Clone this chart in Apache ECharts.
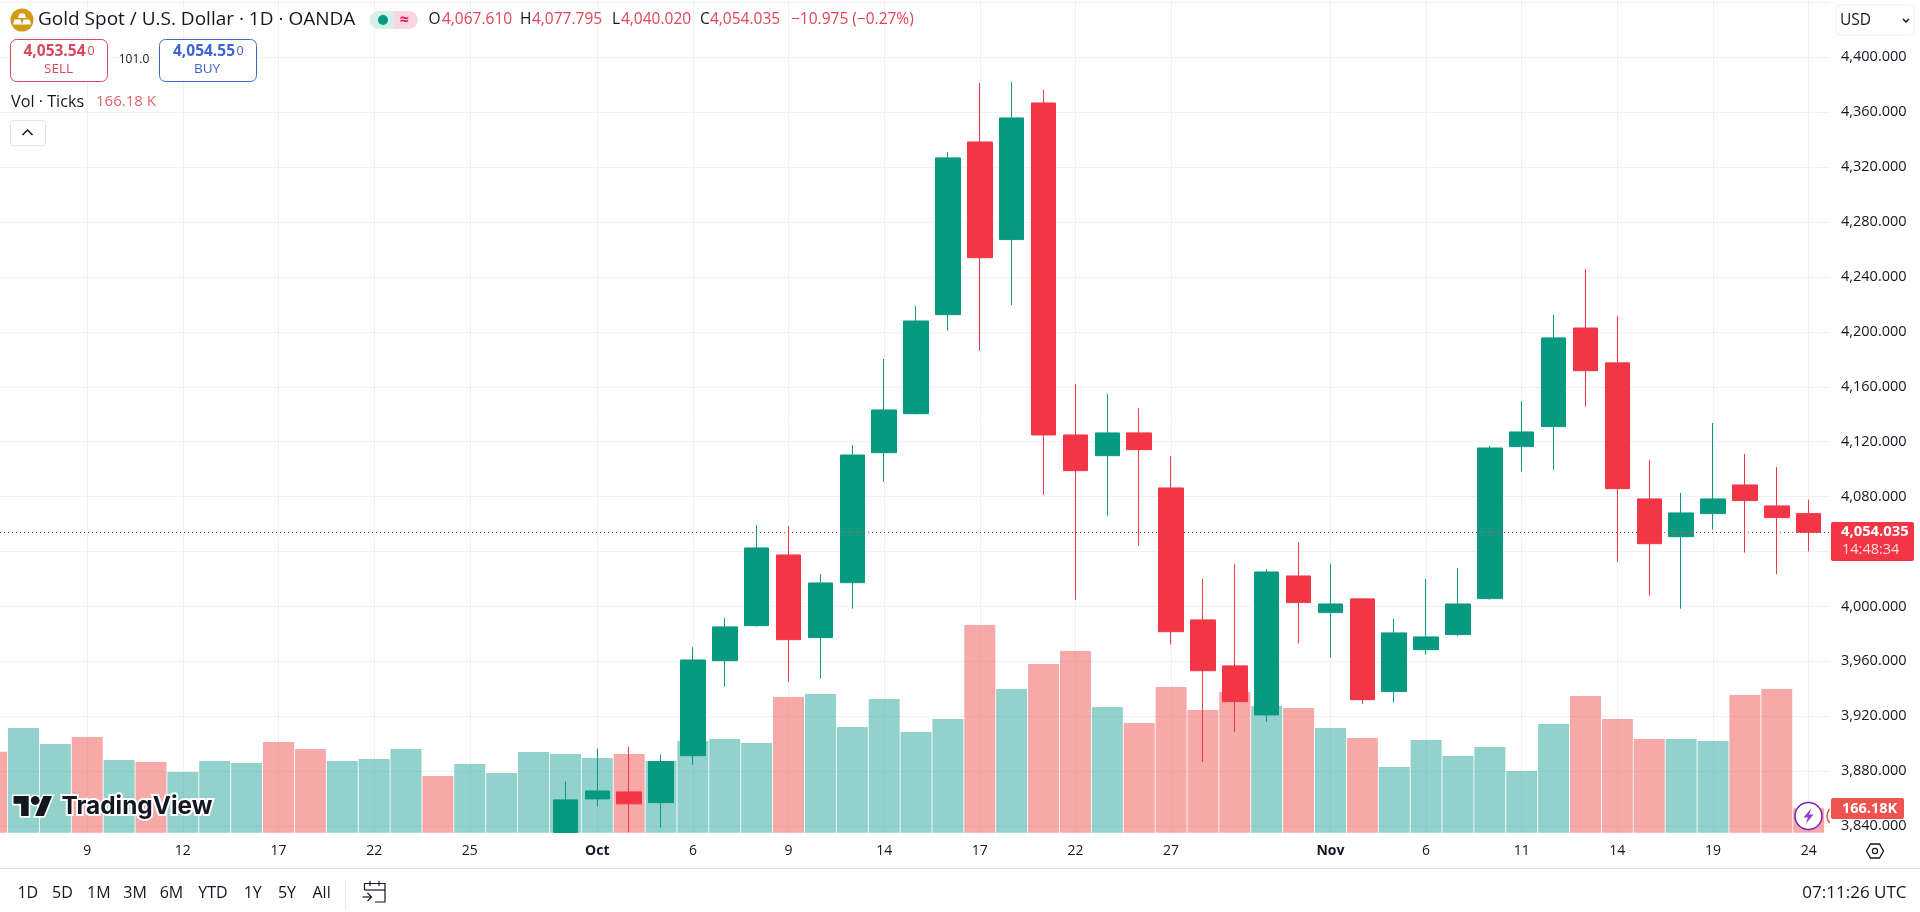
<!DOCTYPE html>
<html>
<head>
<meta charset="utf-8">
<title>Gold Spot / U.S. Dollar</title>
<script src="https://cdn.jsdelivr.net/npm/echarts@6/dist/echarts.min.js"></script>
<style>html,body{margin:0;padding:0;background:#fff}#c{width:1920px;height:912px}</style>
</head>
<body>
<div id="c"></div>
<script>
// ---- data ----
const dates = ['Sep 4','Sep 5','Sep 8','9','Sep 10','Sep 11','12','Sep 15','Sep 16','17','Sep 18','Sep 19','22','Sep 23','Sep 24','25','Sep 26','Sep 29','Sep 30','Oct','Oct 2','Oct 3','6','Oct 7','Oct 8','9','Oct 10','Oct 13','14','Oct 15','Oct 16','17','Oct 20','Oct 21','22','Oct 23','Oct 24','27','Oct 28','Oct 29','Oct 30','Oct 31','Nov','Nov 4','Nov 5','6','Nov 7','Nov 10','11','Nov 12','Nov 13','14','Nov 17','Nov 18','19','Nov 20','Nov 21','24'];
const boldLabels = ['Oct','Nov'];
const volumeK = [552,713,604,652,495,481,413,488,475,618,570,488,502,570,386,468,407,550,536,509,536,488,624,638,611,924,945,720,911,686,774,1414,979,1149,1237,856,747,992,836,958,863,849,713,645,447,631,522,584,420,740,931,774,638,638,624,938,979,166.18];
const volumeDir = ['d','u','u','d','u','d','u','u','u','d','d','u','u','u','d','u','u','u','u','u','d','u','u','u','u','d','u','u','u','u','u','d','u','d','d','u','d','d','d','d','u','d','u','d','u','u','u','u','u','u','d','d','d','u','u','d','d','d'];
const firstCandleIndex = 18;
const opens  = [3835.4,3859.8,3864.9,3857.1,3891.3,3960.5,3986,4037.5,3977.3,4017.3,4112,4140.4,4212.5,4338.3,4267.2,4366.7,4124.9,4109.8,4126.4,4086.3,3990.2,3956.7,3921,4022.2,3995.5,4005.5,3938,3968.5,3979.5,4005.7,4116.4,4131,4202.8,4177.4,4078.3,4050.8,4067.6,4088.5,4073.2,4067.61];
const closes = [3859.1,3865.6,3856.2,3887,3961,3985.1,4042.6,3975.8,4017.1,4110.3,4143.1,4207.9,4326.7,4254,4355.8,4124.9,4098.9,4126.4,4114.2,3981.6,3953.2,3930.7,4025.1,4002.8,4001.8,3932.1,3980.7,3977.8,4001.8,4115.4,4127.1,4195.6,4171.7,4085.8,4045.7,4068.1,4078.3,4077.1,4064.7,4054.035];
const lows   = [3835.4,3854.2,3835.4,3838.9,3884.6,3941.6,3985.3,3945.2,3947.4,3998.4,4090.9,4140,4200.9,4186.3,4219.6,4081.2,4005,4066.1,4044.3,3972.2,3886.7,3908.8,3916.1,3973.2,3962.7,3929.2,3929.9,3964.9,3978.5,4005,4098.2,4099.4,4145.5,4032.6,4007.9,3998.4,4055.9,4039.2,4023.5,4040.02];
const highs  = [3872.4,3896.4,3897.9,3891.9,3970.3,3991.6,4059.4,4058.4,4023.5,4117.6,4180.3,4218.9,4330.8,4381.3,4382,4376.2,4162.1,4154.8,4144.6,4109.6,4020,4030.7,4027.1,4046.8,4031,4005.5,3990.9,4020,4028,4116.9,4149.5,4212.3,4245.8,4211.6,4106.7,4082.7,4133.7,4111.1,4101.6,4077.795];
const priceTicks = [3840,3880,3920,3960,4000,4040,4080,4120,4160,4200,4240,4280,4320,4360,4400];
const priceGrid = priceTicks.concat([4440]);
const dateTickIndex = [3,6,9,12,15,19,22,25,28,31,34,37,42,45,48,51,54,57];
const lastPrice = 4054.035;
const rangeButtons = ['1D','5D','1M','3M','6M','YTD','1Y','5Y','All'];

// ---- styling ----
const UP='#089981', DOWN='#F23645', INK='#131722', GRID='#f0f1f4';
const FONT='"Open Sans", "Noto Sans", sans-serif';
const candleRows = opens.map((o,k)=>[k+firstCandleIndex,o,closes[k],lows[k],highs[k]]);
const volumeRows = volumeK.map((v,i)=>[i,v]);
const fmt = v => v.toFixed(3).replace(/\B(?=(\d{3})(?!\d))/, ',');

function txt(x,y,s,o){o=o||{};return {type:'text',x:x,y:y,z:50,silent:true,style:{text:s,fontFamily:o.font||FONT,fontSize:o.size||14,fontWeight:o.weight||'normal',fill:o.color||INK,align:o.align||'left',verticalAlign:'middle',stroke:o.stroke,lineWidth:o.lw}};}
function box(x,y,w,h,o){return {type:'rect',z:o.z||40,silent:true,shape:{x:x,y:y,width:w,height:h,r:o.r||0},style:{fill:o.fill||'#fff',stroke:o.stroke,lineWidth:o.lw||1}};}
function pline(pts,o){o=o||{};return {type:'polyline',z:50,silent:true,shape:{points:pts},style:{fill:'none',stroke:o.color||INK,lineWidth:o.lw||1.2}};}

const header = [
  {type:'circle',z:50,silent:true,shape:{cx:22,cy:20,r:11.5},style:{fill:'#cf9a14'}},
  {type:'polygon',z:51,silent:true,shape:{points:[[19.5,13.5],[24.5,13.5],[26,18],[18,18]]},style:{fill:'#fff'}},
  {type:'polygon',z:51,silent:true,shape:{points:[[14.5,19.5],[20.5,19.5],[22,24.5],[13,24.5]]},style:{fill:'#fff'}},
  {type:'polygon',z:51,silent:true,shape:{points:[[23.5,19.5],[29.5,19.5],[31,24.5],[22,24.5]]},style:{fill:'#fff'}},
  txt(38,20,'Gold Spot / U.S. Dollar · 1D · OANDA',{size:19}),
  box(370,11,48,18,{fill:'#fad6e2',r:9}),
  box(370,11,24,18,{fill:'#d5f0ec',r:[9,0,0,9],z:41}),
  {type:'circle',z:50,silent:true,shape:{cx:383,cy:20,r:5},style:{fill:UP}},
  txt(404,20,'≈',{size:16,color:'#d81b60',align:'center',weight:'bold'}),
  txt(428.5,20,'O',{size:15.5}),txt(442,20,'4,067.610',{size:15.5,color:'#e04458'}),
  txt(520,20,'H',{size:15.5}),txt(532,20,'4,077.795',{size:15.5,color:'#e04458'}),
  txt(612,20,'L',{size:15.5}),txt(621,20,'4,040.020',{size:15.5,color:'#e04458'}),
  txt(700,20,'C',{size:15.5}),txt(710,20,'4,054.035',{size:15.5,color:'#e04458'}),
  txt(791,20,'−10.975 (−0.27%)',{size:15.5,color:'#e04458'}),
  box(10.5,39.5,97,42,{fill:'#fff',stroke:'#d8475c',r:6}),
  txt(23.5,52,'4,053.54',{size:15.5,weight:'bold',color:'#d8475c'}),
  txt(87.5,51,'0',{size:12.5,color:'#d8475c'}),
  txt(58.5,69.5,'SELL',{size:13.5,color:'#d8475c',align:'center'}),
  txt(134,60,'101.0',{size:12,align:'center'}),
  box(159.5,39.5,97,42,{fill:'#fff',stroke:'#3d68bf',r:6}),
  txt(173,52,'4,054.55',{size:15.5,weight:'bold',color:'#3f62d8'}),
  txt(236.5,51,'0',{size:12.5,color:'#3f62d8'}),
  txt(207,69.5,'BUY',{size:13.5,color:'#3f62d8',align:'center'}),
  txt(11,102,'Vol · Ticks',{size:16.2}),
  txt(96,102,'166.18 K',{size:15,color:'#e4646a'}),
  box(10.5,120.5,35,25,{fill:'#fff',stroke:'#e0e3eb',r:3}),
  pline([[22.5,135],[27.5,130],[32.5,135]],{lw:1.5}),
  box(1836,5,78,30,{fill:'#fff',stroke:'#eff1f5',r:4}),
  txt(1840,20.5,'USD',{size:15.5}),
  pline([[1903,19],[1906,22],[1909,19]],{lw:1.5})
];

const right = [
  box(1831,522,83,39,{fill:DOWN,r:2}),
  txt(1841,532,fmt(lastPrice),{size:14.8,weight:'bold',color:'#fff'}),
  txt(1842,550,'14:48:34',{size:14.5,color:'#ffd9dc'}),
  {type:'circle',z:50,silent:true,shape:{cx:1808.5,cy:816,r:13.5},style:{fill:'#fff',stroke:'#7b2cbf',lineWidth:1.6}},
  {type:'polygon',z:51,silent:true,shape:{points:[[1811.5,808],[1803.5,817.5],[1808,817.5],[1805.5,824],[1813.5,814.5],[1809,814.5]]},style:{fill:'#8e3fd0'}},
  {type:'bezierCurve',z:50,silent:true,shape:{x1:1829.5,y1:809,x2:1829.5,y2:823,cpx1:1824.5,cpy1:816},style:{fill:'none',stroke:'#ef5350',lineWidth:1.6}},
  box(1831,798,73,21,{fill:'#ef5350',r:2}),
  txt(1842,809,'166.18K',{size:14.5,weight:'bold',color:'#fff'}),
  {type:'polygon',z:50,silent:true,shape:{points:[[1866.5,851],[1870.5,844],[1879.5,844],[1883.5,851],[1879.5,858],[1870.5,858]]},style:{fill:'#fff',stroke:INK,lineWidth:1.3}},
  {type:'circle',z:51,silent:true,shape:{cx:1875,cy:851,r:2.6},style:{fill:'#fff',stroke:INK,lineWidth:1.2}}
];

const logo = [
  {type:'group',x:13.5,y:791.6,scaleX:1.085,scaleY:1.11,z:50,silent:true,children:[
    {type:'polygon',z:50,shape:{points:[[0,4],[14,4],[14,22],[7,22],[7,11],[0,11]]},style:{fill:'#131722',stroke:'#fff',lineWidth:3}},
    {type:'circle',z:50,shape:{cx:20,cy:8,r:4},style:{fill:'#131722',stroke:'#fff',lineWidth:3}},
    {type:'polygon',z:50,shape:{points:[[27.5,4],[35.5,4],[28,22],[20,22]]},style:{fill:'#131722',stroke:'#fff',lineWidth:3}},
    {type:'polygon',z:51,shape:{points:[[0,4],[14,4],[14,22],[7,22],[7,11],[0,11]]},style:{fill:'#131722'}},
    {type:'circle',z:51,shape:{cx:20,cy:8,r:4},style:{fill:'#131722'}},
    {type:'polygon',z:51,shape:{points:[[27.5,4],[35.5,4],[28,22],[20,22]]},style:{fill:'#131722'}}
  ]},
  txt(61.5,807,'TradingView',{font:'Inter, "Open Sans", sans-serif',size:24.4,weight:'bold',color:'#131722',stroke:'#fff',lw:4})
];

const rangeX = [27.8,62.4,98.8,135,171.4,213,252.7,287,321.6];
const footer = [
  {type:'line',z:30,silent:true,shape:{x1:0,y1:868.5,x2:1920,y2:868.5},style:{stroke:'#e0e3eb',lineWidth:1}},
  {type:'line',z:30,silent:true,shape:{x1:345.5,y1:880,x2:345.5,y2:910},style:{stroke:'#e8eaef',lineWidth:1}},
  pline([[364.5,890],[364.5,883.5],[385,883.5],[385,902],[375,902]]),
  pline([[364.5,890],[385,890]]),
  pline([[370,881],[370,886]]),pline([[379,881],[379,886]]),
  pline([[362.5,897],[371.5,897]]),pline([[367.5,893],[371.5,897],[367.5,901]]),
  txt(1906.5,893,'07:11:26 UTC',{size:17,align:'right'})
].concat(rangeButtons.map((b,i)=>txt(rangeX[i],893,b,{size:16,align:'center'})));

const chart = echarts.init(document.getElementById('c'),null,{renderer:'canvas',width:1920,height:912});
chart.setOption({
  animation:false,
  backgroundColor:'#ffffff',
  grid:{left:0,top:0,width:1830,height:832.7,containLabel:false,show:false},
  xAxis:{
    type:'value',min:0.2635,max:57.67,
    axisLine:{show:false},
    axisTick:{show:false,customValues:dateTickIndex},
    splitLine:{show:true,lineStyle:{color:GRID,width:1}},
    axisLabel:{customValues:dateTickIndex,margin:11,fontFamily:FONT,fontSize:14,color:INK,
      formatter:v=>{const s=dates[v];return boldLabels.includes(s)?'{b|'+s+'}':s;},
      rich:{b:{fontFamily:FONT,fontSize:14,fontWeight:'bold',color:INK}}}
  },
  yAxis:[
    {type:'value',position:'right',min:3835.2,max:4441.7,scale:true,
      axisLine:{show:false},
      axisTick:{show:false,customValues:priceGrid},
      splitLine:{show:true,lineStyle:{color:GRID,width:1}},
      axisLabel:{customValues:priceTicks,margin:11,align:'left',fontFamily:FONT,fontSize:14.5,color:INK,padding:[0,0,3,0],formatter:v=>fmt(v)}},
    {type:'value',show:false,min:0,max:5671,splitLine:{show:false}}
  ],
  series:[
    {type:'bar',name:'Vol',yAxisIndex:1,data:volumeRows,barWidth:31,z:2,clip:true,
      itemStyle:{color:p=>volumeDir[p.dataIndex]==='u'?'rgba(38,166,154,0.5)':'rgba(239,83,80,0.5)'}},
    {type:'candlestick',name:'Gold',yAxisIndex:0,data:candleRows,barWidth:25,z:3,clip:true,
      itemStyle:{color:UP,color0:DOWN,borderColor:UP,borderColor0:DOWN,borderWidth:1},
      markLine:{silent:true,symbol:'none',label:{show:false},animation:false,
        lineStyle:{color:'#d0304a',type:[1,3],width:1},data:[{yAxis:lastPrice}]}}
  ],
  graphic:{elements:[].concat(header,right,logo,footer)}
});
</script>
</body>
</html>
